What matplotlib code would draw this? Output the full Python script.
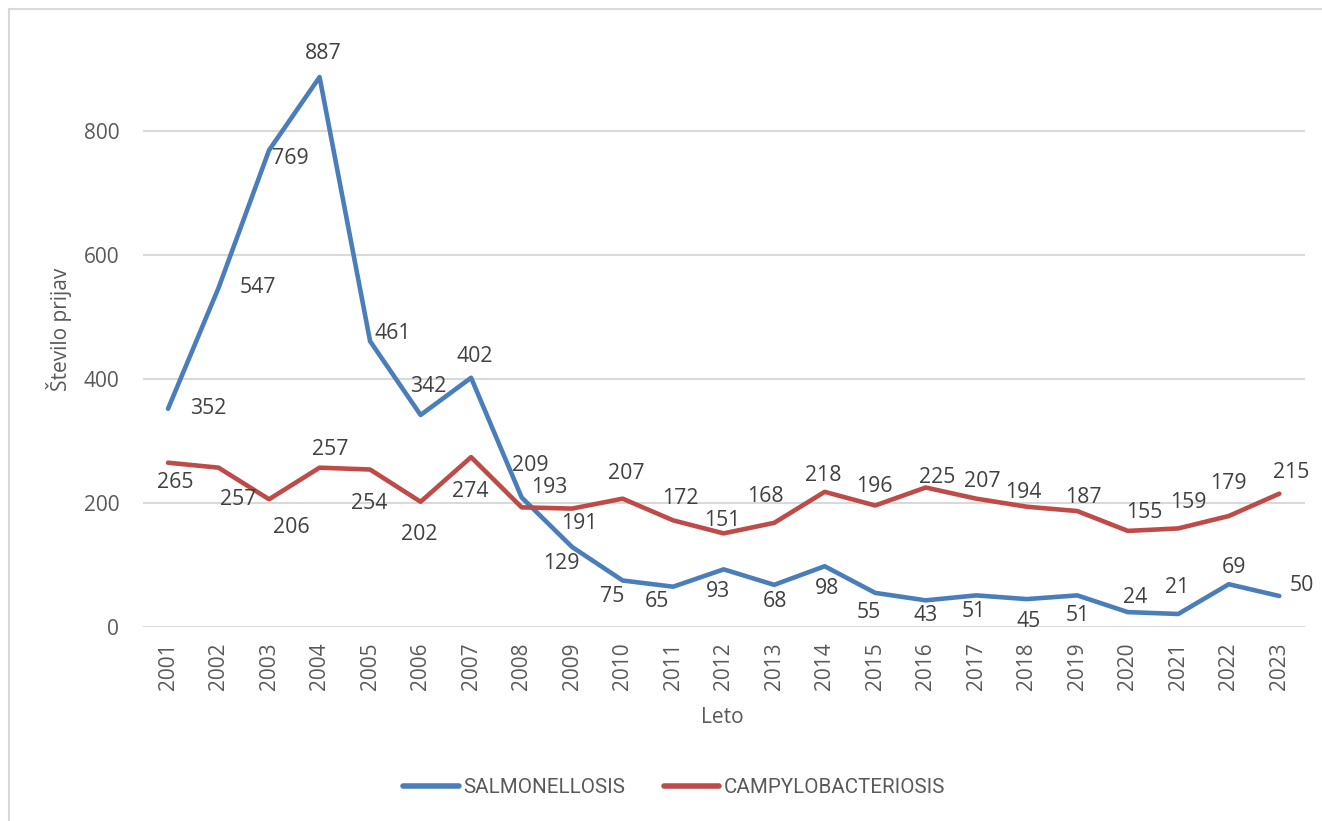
import matplotlib.pyplot as plt
from matplotlib.lines import Line2D

plt.rcParams['font.family'] = ['Open Sans', 'DejaVu Sans']

leta = [str(y) for y in range(2001, 2024)]
salmonellosis = [352, 547, 769, 887, 461, 342, 402, 209, 129, 75, 65, 93, 68, 98,
                 55, 43, 51, 45, 51, 24, 21, 69, 50]
campylobacteriosis = [265, 257, 206, 257, 254, 202, 274, 193, 191, 207, 172, 151, 168,
                      218, 196, 225, 207, 194, 187, 155, 159, 179, 215]

# label offsets in pixels (dx, dy), as placed in the original
off_sal = [(40, 0), (39, 0), (21, -8), (4, 24), (23, 8), (8, 28), (4, 21), (9, 32),
           (-11, -16), (-10, -16), (-16, -15), (-6, -22), (1, -17), (2, -22), (-6, -20),
           (0, -15), (-2, -16), (2, -22), (1, -20), (7, 15), (-1, 26), (5, 17), (23, 10)]
off_cam = [(7, -20), (20, -32), (22, -28), (11, 18), (-1, -34), (-1, -33), (-1, -34),
           (28, 20), (7, -15), (4, 25), (7, 22), (-1, 13), (-9, 26), (-1, 16), (-1, 19),
           (11, 10), (6, 17), (-3, 14), (6, 14), (17, 18), (10, 26), (0, 33), (12, 21)]

modra = '#4a7ebb'
rdeca = '#be4b48'
siva = '#595959'

fig = plt.figure(figsize=(13.22, 8.21), dpi=100)
ax = fig.add_axes([0.108, 0.2363, 0.8788, 0.7393])

x = list(range(len(leta)))
ax.plot(x, salmonellosis, color=modra, lw=3.3, solid_capstyle='round',
        solid_joinstyle='round', label='SALMONELLOSIS', zorder=3)
ax.plot(x, campylobacteriosis, color=rdeca, lw=3.3, solid_capstyle='round',
        solid_joinstyle='round', label='CAMPYLOBACTERIOSIS', zorder=3)

for i in x:
    ax.annotate(str(salmonellosis[i]), (i, salmonellosis[i]), xytext=off_sal[i],
                textcoords='offset pixels', ha='center', va='center',
                fontsize=15.3, color='#404040', zorder=4)
    ax.annotate(str(campylobacteriosis[i]), (i, campylobacteriosis[i]), xytext=off_cam[i],
                textcoords='offset pixels', ha='center', va='center',
                fontsize=15.3, color='#404040', zorder=4)

ax.set_xlim(-0.5, len(leta) - 0.5)
ax.set_ylim(0, 979)
ax.set_yticks([0, 200, 400, 600, 800])
ax.set_xticks(x)
ax.set_xticklabels(leta, rotation=90)
ax.grid(axis='y', color='#d9d9d9', lw=1.5)
ax.set_axisbelow(True)
for s in ax.spines.values():
    s.set_visible(False)
ax.tick_params(axis='y', length=0, pad=17, labelsize=15, labelcolor=siva)
ax.tick_params(axis='x', length=0, pad=11, labelsize=15, labelcolor=siva)

ax.set_ylabel('Število prijav', fontsize=15, color=siva)
ax.yaxis.set_label_coords(-0.061, 0.49)
ax.set_xlabel('Leto', fontsize=15, color=siva)
ax.xaxis.set_label_coords(0.4987, -0.132)

handles = [Line2D([], [], color=modra, lw=4, solid_capstyle='round'),
           Line2D([], [], color=rdeca, lw=4, solid_capstyle='round')]
fig.legend(handles, ['SALMONELLOSIS', 'CAMPYLOBACTERIOSIS'], loc='center',
           bbox_to_anchor=(0.51, 0.0405), ncol=2, frameon=False, handlelength=2.7,
           handletextpad=0.2, columnspacing=1.9,
           prop={'family': 'Roboto', 'size': 14.8},
           labelcolor=siva)

# light outer frame of the chart area
fig.add_artist(Line2D([9 / 1322, 1], [1 - 9 / 821, 1 - 9 / 821], color='#d9d9d9', lw=1.5,
                      transform=fig.transFigure))
fig.add_artist(Line2D([9 / 1322, 9 / 1322], [0, 1 - 9 / 821], color='#d9d9d9', lw=1.5,
                      transform=fig.transFigure))

fig.savefig('out.png', dpi=100)
